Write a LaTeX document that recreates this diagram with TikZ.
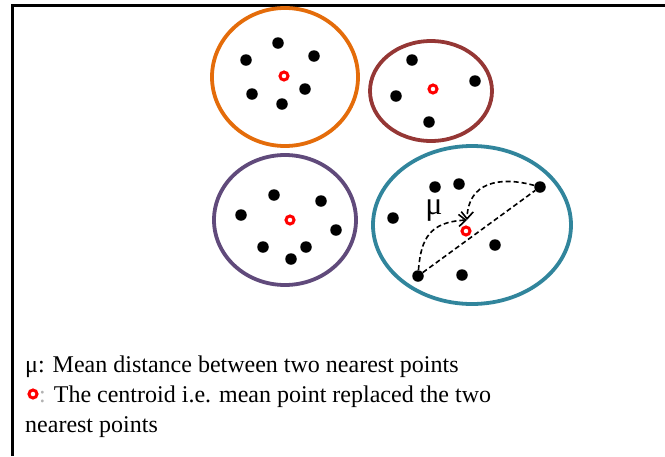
\documentclass[tikz,border=0pt]{standalone}
\usepackage{fontspec}
\setmainfont{Liberation Serif}
\usetikzlibrary{arrows.meta,positioning}
\definecolor{ringorange}{HTML}{E46C0A}
\definecolor{ringbrown}{HTML}{953735}
\definecolor{ringpurple}{HTML}{604A7B}
\definecolor{ringteal}{HTML}{31859C}
\tikzset{
  ptnode/.style={circle,fill=black,inner sep=0pt,minimum size=11.5pt},
  cenode/.style={circle,draw=red,line width=3pt,inner sep=0pt,minimum size=8pt},
  ring/.style={line width=3.8pt},
  dasharr/.style={dash pattern=on 5pt off 3pt,line width=1.6pt,-{Straight Barb[length=7pt,width=12pt]}},
  dashline/.style={dash pattern=on 5pt off 3pt,line width=1.6pt},
  legtext/.style={anchor=base west,inner sep=0pt,font=\fontsize{24}{28}\selectfont}
}
\begin{document}
\begin{tikzpicture}[x=1pt,y=-1pt]
  \useasboundingbox (0,0) rectangle (665,456);
  \draw[line width=3pt] (12,456) -- (12,5) -- (665,5);

  % clusters
  \draw[ring,ringorange] (285,77) ellipse [x radius=73,y radius=69];
  \draw[ring,ringbrown] (431,91) ellipse [x radius=61,y radius=50];
  \draw[ring,ringpurple] (285,220) ellipse [x radius=71,y radius=65];
  \draw[ring,ringteal] (472,225) ellipse [x radius=99,y radius=79];

  % orange cluster
  \node[ptnode] (o1) at (278,43) {};
  \node[ptnode] (o2) at (314,56) {};
  \node[ptnode] (o3) at (246,60) {};
  \node[ptnode] (o4) at (305,89) {};
  \node[ptnode] (o5) at (252,94) {};
  \node[ptnode] (o6) at (282,104) {};
  \node[cenode] (oc) at (284,76) {};

  % brown cluster
  \node[ptnode] (b1) at (412,60) {};
  \node[ptnode] (b2) at (475,81) {};
  \node[ptnode] (b3) at (396,96) {};
  \node[ptnode] (b4) at (429,122) {};
  \node[cenode] (bc) at (433,89) {};

  % purple cluster
  \node[ptnode] (p1) at (274,195) {};
  \node[ptnode] (p2) at (321,201) {};
  \node[ptnode] (p3) at (241,215) {};
  \node[ptnode] (p4) at (336,230) {};
  \node[ptnode] (p5) at (263,247) {};
  \node[ptnode] (p6) at (306,247) {};
  \node[ptnode] (p7) at (291,259) {};
  \node[cenode] (pc) at (290,220) {};

  % teal cluster
  \node[ptnode] (t1) at (435,187) {};
  \node[ptnode] (t2) at (459,184) {};
  \node[ptnode] (t3) at (540,187) {};
  \node[ptnode] (t4) at (393,218) {};
  \node[ptnode] (t5) at (495,245) {};
  \node[ptnode] (t6) at (418,276) {};
  \node[ptnode] (t7) at (462,275) {};
  \node[cenode] (tc) at (466,231) {};
  \node[font=\fontsize{32}{32}\selectfont,inner sep=0pt] (mu) at (434,211) {μ};
  \coordinate (tip) at (467,220);

  \draw[dashline] (t6) -- (t3);
  \draw[dasharr] (t6) .. controls (421,238) and (430,222) .. (tip);
  \draw[dasharr] (t3) .. controls (500,176) and (468,182) .. (tip);

  % legend
  \node[legtext] (leg1) at (25,372) {μ: Mean distance between two nearest points};
  \node[cenode] (legc) at (33,394) {};
  \node[legtext] (leg2) at (39,402) {{\color{black!30}:} The centroid i.e. mean point replaced the two};
  \node[legtext] (leg3) at (25,432) {nearest points};
\end{tikzpicture}
\end{document}
